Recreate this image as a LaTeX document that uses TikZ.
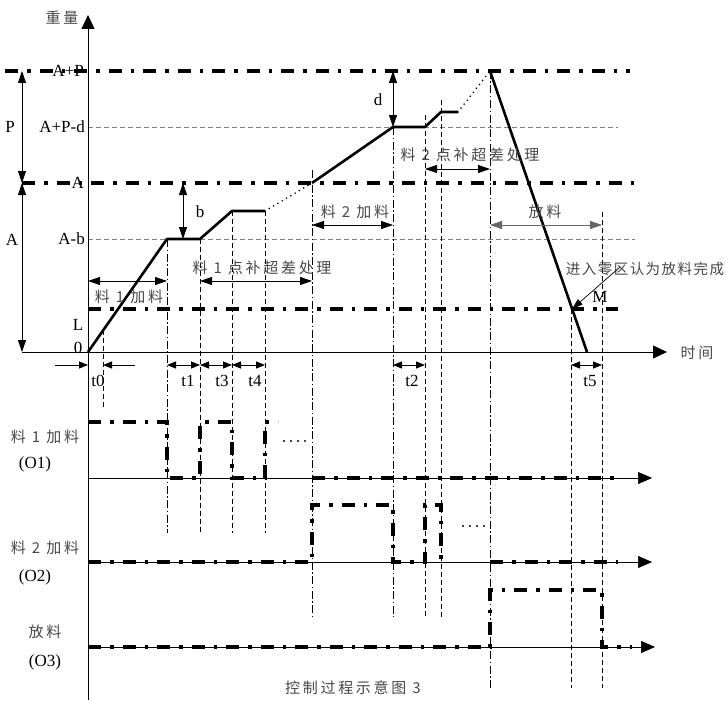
\documentclass[tikz,border=0pt]{standalone}
\usepackage{fontspec}
\setmainfont{Liberation Serif}
\newfontfamily\cjk[LetterSpace=18]{Noto Sans CJK SC}
\newfontfamily\cjknote[LetterSpace=10]{Noto Sans CJK SC}
\usetikzlibrary{arrows.meta}
\definecolor{zhgray}{HTML}{484848}
\tikzset{
  zh/.style={font=\cjk\fontsize{15}{15}\selectfont, text=zhgray, inner sep=0pt},
  zhnote/.style={font=\cjknote\fontsize{14.5}{15}\selectfont, text=zhgray, inner sep=0pt},
  lt/.style={font=\fontsize{17}{17}\selectfont, inner sep=0pt},
  axisline/.style={line width=0.8pt, -{Triangle[length=14pt,width=13pt]}},
  baseline/.style={line width=0.7pt, -{Triangle[length=14pt,width=12pt]}},
  thickdd/.style={line width=3.4pt, dash pattern=on 13pt off 9pt on 3.5pt off 9pt},
  sig/.style={line width=3.4pt, dash pattern=on 13pt off 9pt on 3.5pt off 9pt, line join=miter},
  refdash/.style={line width=0.8pt, draw=gray, dash pattern=on 5pt off 3pt},
  vdd/.style={line width=0.7pt, dash pattern=on 8pt off 2.5pt on 1.5pt off 2.5pt},
  vdash/.style={line width=0.7pt, dash pattern=on 5pt off 3pt},
  curve/.style={line width=2.6pt, line join=round},
  dotc/.style={line width=1.8pt, dash pattern=on 0pt off 5pt, line cap=round},
  dotrow/.style={line width=2.4pt, dash pattern=on 0pt off 7pt, line cap=round},
  dimarr/.style={line width=0.8pt, {Triangle[length=12pt,width=8pt]}-{Triangle[length=12pt,width=8pt]}},
  tarr/.style={line width=0.8pt, {Triangle[length=9pt,width=7pt]}-{Triangle[length=9pt,width=7pt]}},
  onearr/.style={line width=0.8pt, -{Triangle[length=9pt,width=7pt]}},
}
\begin{document}
\begin{tikzpicture}[x=1pt,y=-1pt]
\useasboundingbox[fill=white] (0,0) rectangle (726,701);

% ---------- reference lines ----------
\draw[thickdd] (5,71) -- (630,71);
\draw[refdash] (88,127) -- (618,127);
\draw[thickdd] (22,183) -- (635,183);
\draw[refdash] (88,239) -- (635,239);
\draw[thickdd] (88,309) -- (618,309);

% ---------- axes ----------
\coordinate (yb) at (88,700); \coordinate (yt) at (88,15);
\draw[axisline] (yb) -- (yt);
\coordinate (xl) at (22,352); \coordinate (xr) at (667,352);
\draw[axisline] (xl) -- (xr);
\node[zh] (ylab) at (62,18) {重量};
\node[zh] (xlab) at (697,353) {时间};

% ---------- level labels ----------
\node[lt, anchor=east] (lAP) at (84,71) {A+P};
\node[lt, anchor=east] (lAPd) at (85,127) {A+P-d};
\node[lt, anchor=east] (lA) at (84,183) {A};
\node[lt, anchor=east] (lAb) at (85,239) {A-b};
\node[lt] (lL) at (78,325) {L};
\node[lt] (l0) at (78,348) {0};

% ---------- P and A dimensions ----------
\coordinate (pT) at (22,71); \coordinate (pB) at (22,183); \coordinate (aB) at (22,352);
\draw[dimarr] (pT) -- (pB);
\draw[dimarr] (pB) -- (aB);
\node[lt] (lP) at (10,127) {P};
\node[lt] (lAA) at (12,240) {A};

% ---------- weight curve ----------
\coordinate (c0) at (88,352);
\coordinate (c1) at (167,239);
\coordinate (c2) at (200,239);
\coordinate (c3) at (232,211);
\coordinate (c4) at (265,211);
\coordinate (c5) at (312,183);
\coordinate (c6) at (393,127);
\coordinate (c7) at (425,127);
\coordinate (c8) at (441,112);
\coordinate (c9) at (458,112);
\coordinate (c10) at (490,71);
\coordinate (c11) at (587,352);
\coordinate (M) at (572,309);
\draw[curve] (c0) -- (c1) -- (c2) -- (c3) -- (c4);
\draw[dotc] (c4) -- (c5);
\draw[curve] (c5) -- (c6) -- (c7) -- (c8) -- (c9);
\draw[dotc] (c9) -- (c10);
\draw[curve] (c10) -- (c11);

% ---------- vertical guide lines ----------
\draw[vdash] (103,330) -- (103,407);
\draw[vdd] (167,239) -- (167,533);
\draw[vdash] (200,239) -- (200,533);
\draw[vdash] (232,211) -- (232,533);
\draw[vdash] (265,211) -- (265,533);
\draw[vdd] (312,170) -- (312,617);
\draw[vdd] (393,127) -- (393,617);
\draw[vdash] (425,115) -- (425,617);
\draw[vdash] (441,100) -- (441,617);
\draw[vdd] (490,71) -- (490,688);
\draw[vdash] (571,309) -- (571,688);
\draw[vdash] (602,212) -- (602,688);

% ---------- b and d ----------
\draw[dimarr] (183,183) -- (183,239);
\node[lt] (lb) at (200,212) {b};
\draw[dimarr] (393,71) -- (393,127);
\node[lt] (ld) at (378,100) {d};

% ---------- phase arrows ----------
\draw[dimarr] (88,281) -- (167,281);
\node[zh] (ph1) at (129,297) {料 1 加料};
\draw[dimarr] (200,281) -- (312,281);
\node[zh] (ph2) at (262,268) {料 1 点补超差处理};
\draw[dimarr] (312,225) -- (393,225);
\node[zh] (ph3) at (355,212) {料 2 加料};
\draw[dimarr] (425,169) -- (490,169);
\node[zh] (ph4) at (470,155) {料 2 点补超差处理};
\draw[dimarr, draw=gray!80!black] (490,225) -- (602,225);
\node[zh] (ph5) at (545,212) {放料};

% ---------- M annotation ----------
\node[zhnote] (note) at (645,269) {进入零区认为放料完成};
\coordinate (nt) at (620,267);
\draw[line width=0.7pt, -{Triangle[length=11pt,width=7pt]}] (nt) -- (M);
\node[lt] (lM) at (600,297) {M};

% ---------- time intervals ----------
\draw[onearr] (55,365) -- (88,365);
\draw[onearr] (135,365) -- (103,365);
\draw[tarr] (167,365) -- (200,365);
\draw[tarr] (200,365) -- (232,365);
\draw[tarr] (232,365) -- (265,365);
\draw[tarr] (393,365) -- (425,365);
\draw[tarr] (571,365) -- (602,365);
\node[lt] (t0) at (98,381) {t0};
\node[lt] (t1) at (188,381) {t1};
\node[lt] (t3) at (222,381) {t3};
\node[lt] (t4) at (255,381) {t4};
\node[lt] (t2) at (412,381) {t2};
\node[lt] (t5) at (590,381) {t5};

% ---------- timing rows ----------
\draw[baseline] (88,478) -- (652,478);
\draw[baseline] (88,562) -- (652,562);
\draw[baseline] (88,647) -- (655,647);

\draw[sig] (88,422) -- (167,422) -- (167,478) -- (200,478) -- (200,422) -- (232,422) -- (232,478) -- (265,478) -- (265,422) -- (278,422);
\draw[dotrow] (284,441) -- (306,441);
\draw[sig] (312,478) -- (614,478);

\draw[sig] (88,562) -- (312,562) -- (312,505) -- (393,505) -- (393,562) -- (425,562) -- (425,505) -- (441,505) -- (441,562);
\draw[dotrow] (463,526) -- (485,526);
\draw[sig] (490,562) -- (618,562);

\draw[sig] (88,647) -- (490,647) -- (490,590) -- (602,590) -- (602,647) -- (632,647);

\node[zh] (r1a) at (45,437) {料 1 加料};
\node[lt] (r1b) at (35,464) {(O1)};
\node[zh] (r2a) at (45,548) {料 2 加料};
\node[lt] (r2b) at (35,577) {(O2)};
\node[zh] (r3a) at (45,632) {放料};
\node[lt] (r3b) at (45,662) {(O3)};

\node[zh] (cap) at (353,688) {控制过程示意图 3};
\end{tikzpicture}
\end{document}
